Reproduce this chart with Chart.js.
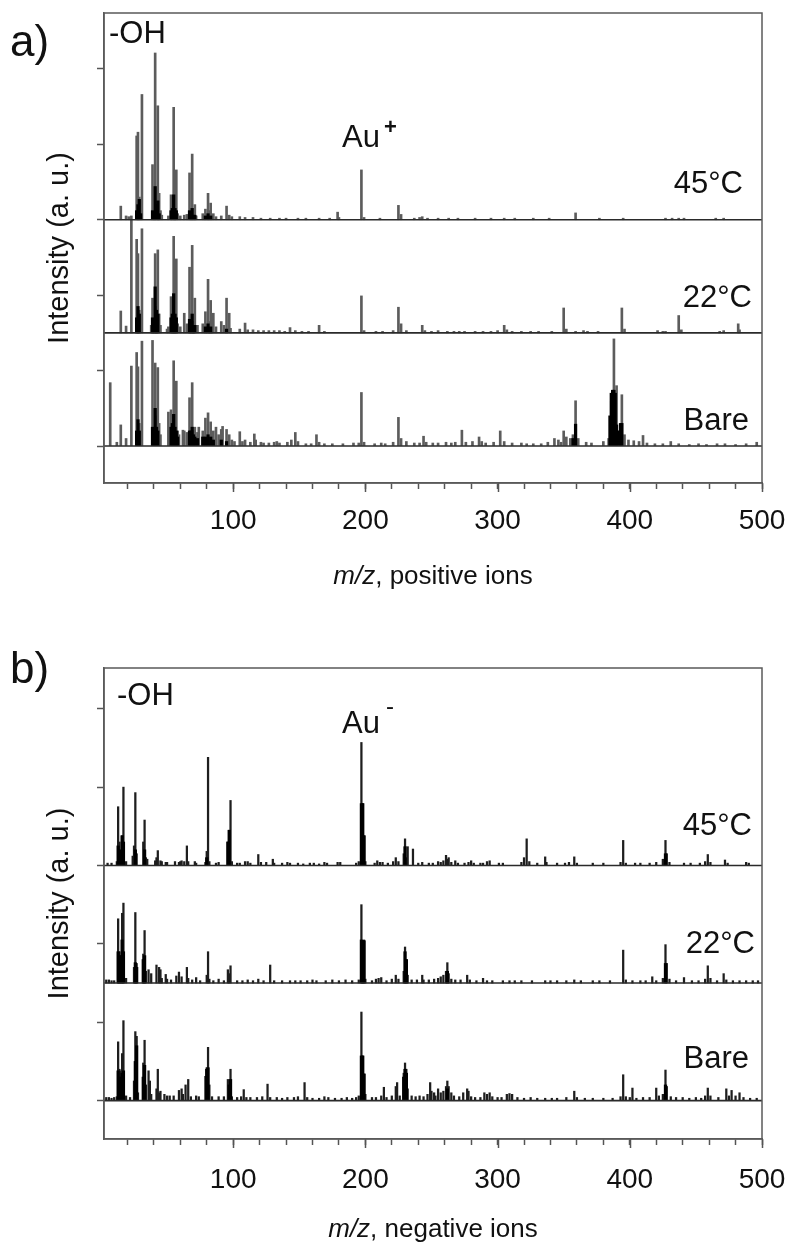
<!DOCTYPE html>
<html><head><meta charset="utf-8">
<script src="https://cdn.jsdelivr.net/npm/chart.js@4.4.1/dist/chart.umd.min.js"></script>
<style>
html,body{margin:0;padding:0;background:#fff;}
body{width:790px;height:1245px;position:relative;overflow:hidden;}
canvas{position:absolute;left:0;}
#ca{top:0;}
#cb{top:622px;}
</style></head><body>
<canvas id="ca" width="790" height="622"></canvas>
<canvas id="cb" width="790" height="623"></canvas>
<script>
// ---------------- DATA ----------------
const mzRange = [2.3, 500];
const xTickLabels = [100, 200, 300, 400, 500];
const spectrumNames = ['45°C', '22°C', 'Bare'];
const spectrumOffsets = [3, 1.5, 0];

// Panel a (positive ions) — 45°C
const posMz45 = [15,19,21,27,28,29,31, 39,41,43,44,45,46, 51,53,55,56,57,58, 60,63,65,67,69,71,72, 77,79,81,82,83,85,87, 91,95,97,99,
  105,109,115,121,128,135,140,149,155,165,173, 179,180,197,199,211,225,227, 237,241,243,247,255,263,270, 283,295,305,313,327,339, 359,377,395, 427,432,437,441,465,471];
const posInt45 = [0.18,0.05,0.04,1.11,1.16,0.30,1.66, 0.73,2.21,1.51,0.35,0.12,0.06, 0.05,0.33,1.49,0.25,0.66,0.08, 0.05,0.06,0.07,0.62,0.87,0.20,0.05, 0.08,0.14,0.35,0.12,0.22,0.08,0.04, 0.05,0.18,0.06,0.04,
  0.04,0.03,0.03,0.02,0.02,0.02,0.02,0.02,0.02,0.02,0.02, 0.10,0.03,0.66,0.03,0.02,0.19,0.07, 0.02,0.03,0.04,0.02,0.02,0.02,0.02, 0.02,0.02,0.02,0.02,0.02,0.02, 0.09,0.02,0.02, 0.02,0.02,0.02,0.02,0.02,0.02];
const posCoreMz45 = [27,28,29,30, 39,40,41,42,43,44, 53,54,55,56,57, 67,68,69,70,71, 79,81,83];
const posCoreInt45 = [0.12,0.20,0.27,0.08, 0.12,0.10,0.44,0.20,0.25,0.08, 0.12,0.15,0.33,0.15,0.12, 0.12,0.08,0.15,0.06,0.06, 0.05,0.08,0.05];

// Panel a — 22°C
const posMz22 = [15,19,23,27,28,29,31, 38,39,41,42,43,44,45, 50,51,53,55,56,57,58, 60,63,65,67,69,70,71,73, 77,79,81,82,83,84,85,87, 91,93,95,97,98,
  105,109,111,115,119,123,127,131,135,139,143,147,152,157,165,169, 197,199,208,213,221,225,227,231, 243,245,250,255,262,267,271,275,283,289,295,300,
  305,307,311,318,325,331,341, 350,352,359,365,368,376, 394,396,421,425,427, 437,439,468,471,482,483];
const posInt22 = [0.29,0.09,1.55,1.24,1.05,0.30,1.38, 0.10,0.46,1.05,0.35,1.10,0.25,0.10, 0.05,0.08,0.48,1.28,0.30,0.98,0.12, 0.08,0.26,0.12,0.87,1.16,0.15,0.46,0.10, 0.12,0.28,0.71,0.15,0.43,0.10,0.26,0.08, 0.15,0.10,0.46,0.26,0.06,
  0.05,0.13,0.04,0.04,0.03,0.03,0.03,0.03,0.03,0.02,0.07,0.03,0.02,0.02,0.10,0.02, 0.49,0.03,0.02,0.02,0.03,0.34,0.12,0.03, 0.10,0.03,0.02,0.03,0.02,0.02,0.02,0.02,0.02,0.02,0.02,0.03,
  0.10,0.04,0.02,0.02,0.02,0.02,0.02, 0.33,0.05,0.02,0.03,0.02,0.02, 0.33,0.05,0.03,0.02,0.02, 0.23,0.04,0.02,0.03,0.12,0.04];
const posCoreMz22 = [27,28,29, 39,40,41,42,43, 53,54,55,56,57, 67,68,69,70,71, 79,81,83,95];
const posCoreInt22 = [0.20,0.35,0.25, 0.20,0.15,0.61,0.30,0.25, 0.20,0.25,0.52,0.25,0.20, 0.18,0.15,0.25,0.10,0.10, 0.08,0.12,0.08,0.05];

// Panel a — Bare
const posMzBare = [7,12,15,19,23,27,28,29,31, 39,41,42,43,44,45, 51,53,55,56,57,58,59, 62,63,65,67,69,70,71,73,74, 77,79,81,83,85,87,89, 91,92,95,97,99,
  101,105,107,109,113,116,117,121,123,127,131,133,135,141,144,147,149, 155,159,163,165,169,175,183,191,195, 197,199,207,212,215,221,225,227,231,
  237,241,244,246,251,255,261,265,268,273,276,281,286,288,291,297, 302,305,311,318,322,327,333,338,343,346,348, 350,352,355,357,359,361,367,371,
  380,384,386,388,390,392,394,396,399, 403,407,410,413,419,425,431,437,445,452,458,466,472,480,488,496];
const posIntBare = [0.84,0.05,0.28,0.10,1.06,1.24,1.05,0.30,1.39, 1.40,1.10,0.40,1.04,0.30,0.15, 0.45,0.48,1.13,0.40,0.86,0.20,0.15, 0.21,0.20,0.18,0.64,0.84,0.20,0.25,0.18,0.25, 0.20,0.37,0.44,0.32,0.20,0.25,0.15, 0.22,0.26,0.22,0.15,0.08,
  0.06,0.19,0.06,0.08,0.05,0.16,0.08,0.05,0.04,0.04,0.05,0.06,0.04,0.05,0.08,0.18,0.06, 0.03,0.03,0.15,0.05,0.03,0.03,0.03,0.04,0.04, 0.71,0.05,0.03,0.04,0.03,0.05,0.38,0.10,0.06,
  0.04,0.04,0.13,0.05,0.04,0.04,0.05,0.04,0.05,0.21,0.05,0.06,0.12,0.06,0.04,0.05, 0.20,0.06,0.04,0.04,0.03,0.03,0.03,0.05,0.10,0.08,0.05, 0.20,0.12,0.10,0.15,0.60,0.10,0.05,0.04,
  0.06,0.10,0.60,1.42,0.80,0.20,0.68,0.15,0.08, 0.07,0.06,0.14,0.04,0.03,0.03,0.06,0.03,0.02,0.03,0.02,0.03,0.03,0.02,0.03,0.05];
const posCoreMzBare = [27,28,29, 39,40,41,42,43, 53,54,55,56,57,58, 67,68,69,70,71,73, 77,79,81,83,85,91,95, 357,359, 385,386,387,388,389,390,391,393,394];
const posCoreIntBare = [0.20,0.35,0.20, 0.25,0.20,0.50,0.25,0.20, 0.25,0.30,0.42,0.25,0.20,0.12, 0.20,0.20,0.25,0.15,0.12,0.10, 0.12,0.12,0.15,0.12,0.08,0.08,0.06, 0.10,0.29, 0.40,0.70,0.74,0.74,0.70,0.28,0.20,0.30,0.30];

// Panel b (negative ions) — 45°C
const negMz45 = [5,8,12,13,14,16,17,19, 24,25,26,27,32,33,34,35, 41,42,43,45,46,49,50, 56,59,60,61,63,65,66,71,72, 79,80,81,82,87,89, 96,97,98,99,
  103,105,109,111,113,119,121,125,130,131,137,141,143,149,153,158,161,165,169,171,179,181, 193,195,197,198,199,200, 207,209,211,213,217,221,223,225,
  229,230,231,232,236,240,243,248,251,255,257,259,261,262,263,265,268,270, 275,278,280,282,287,289,292,294,301,304, 318,320,322,324,330,336,337,
  345,351,354,358,360,372,380, 393,395,397,404,408,415,420,425,427,428,430, 441,446,453,457,459,461,472,474,488,490];
const negInt45 = [0.03,0.03,0.05,0.75,0.30,0.38,1.00,0.05, 0.12,0.25,0.93,0.15,0.30,0.58,0.10,0.08, 0.06,0.10,0.19,0.06,0.05,0.04,0.04, 0.05,0.04,0.05,0.06,0.05,0.25,0.05,0.05,0.03, 0.04,0.18,1.38,0.05,0.03,0.04, 0.30,0.45,0.83,0.05,
  0.03,0.03,0.05,0.05,0.03,0.14,0.04,0.04,0.08,0.03,0.03,0.04,0.03,0.03,0.02,0.03,0.03,0.02,0.04,0.03,0.04,0.04, 0.03,0.05,1.57,0.79,0.38,0.05, 0.03,0.06,0.04,0.04,0.03,0.05,0.10,0.05,
  0.15,0.34,0.10,0.24,0.21,0.03,0.04,0.03,0.03,0.05,0.04,0.06,0.13,0.08,0.10,0.04,0.06,0.03, 0.03,0.04,0.06,0.03,0.03,0.03,0.05,0.06,0.03,0.03, 0.04,0.10,0.34,0.05,0.03,0.11,0.04,
  0.03,0.03,0.04,0.11,0.03,0.03,0.03, 0.04,0.32,0.03,0.03,0.03,0.03,0.04,0.08,0.32,0.15,0.04, 0.03,0.03,0.03,0.05,0.14,0.04,0.07,0.03,0.04,0.03];
const negCoreMz45 = [13,14,16,17,26,33,80,96,97,197,198,199,230,427];
const negCoreInt45 = [0.25,0.20,0.38,0.30,0.20,0.20,0.10,0.30,0.45,0.79,0.79,0.38,0.24,0.15];

// Panel b — 22°C
const negMz22 = [4,6,8,10,13,14,15,16,17,19, 25,26,27,32,33,34,36,38, 42,44,45,46,49,50,53,57,59,61,65,66,69,72,75, 80,81,82,85,89,93,96,97,98,
  103,107,111,115,119,123,128,131,137,143,147,151,156,160,163,170,175,180,185,190,195, 197,198,199,200,205,208,210,212,216,220,223,225,
  229,230,231,232,235,239,243,244,248,252,255,257,259,261,262,263,265,268,272,277,279, 284,289,292,296,304,309,313,318,326,336,340,345,352,358,363,372,377,385,
  395,397,402,408,412,417,420,425,427,428,430,435,441,447,452,457,459,461,466,471,473,478,483,488,493,497];
const negInt22 = [0.04,0.04,0.03,0.03,0.82,0.40,0.35,0.89,1.02,0.06, 0.20,0.90,0.25,0.37,0.67,0.15,0.17,0.12, 0.23,0.20,0.17,0.06,0.11,0.05,0.04,0.09,0.14,0.08,0.20,0.06,0.04,0.07,0.03, 0.10,0.40,0.05,0.03,0.05,0.03,0.17,0.12,0.22,
  0.03,0.03,0.04,0.03,0.05,0.03,0.23,0.03,0.03,0.03,0.03,0.03,0.03,0.04,0.03,0.03,0.04,0.03,0.04,0.03,0.04, 1.00,0.54,0.55,0.05,0.03,0.05,0.06,0.07,0.03,0.05,0.10,0.05,
  0.15,0.46,0.30,0.10,0.04,0.04,0.10,0.04,0.04,0.05,0.06,0.08,0.10,0.15,0.26,0.12,0.05,0.04,0.04,0.10,0.04, 0.03,0.06,0.03,0.03,0.03,0.03,0.03,0.03,0.03,0.03,0.03,0.03,0.03,0.04,0.03,0.03,0.03,0.03,
  0.42,0.04,0.03,0.03,0.03,0.08,0.03,0.06,0.49,0.25,0.05,0.03,0.07,0.03,0.03,0.05,0.22,0.06,0.03,0.12,0.04,0.03,0.03,0.03,0.03,0.03];
const negCoreMz22 = [13,14,16,17,26,27,32,33,197,198,199,230,231,262,427];
const negCoreInt22 = [0.40,0.35,0.55,0.40,0.26,0.20,0.30,0.35,0.55,0.54,0.54,0.40,0.30,0.15,0.25];

// Panel b — Bare
const negMzBare = [4,6,8,10,12,13,14,15,16,17,19,22, 25,26,27,28,32,33,34,36,37,38, 42,43,44,45,48,50,52,55,59,61,62,64,66,68,72,74, 79,80,81,82,84,89,93,96,97,98,99,
  103,106,108,110,113,118,122,126,128,133,137,141,146,149,154,156,160,165,169,172,177,182,186,190,193,195, 197,198,199,200,205,208,212,214,216,220,223,224,226,
  229,230,231,232,235,238,241,244,247,249,250,252,253,255,257,259,261,262,263,265,267,271,274,277,278,280,283,287,290,292,294,296,
  300,303,307,309,311,315,320,325,330,336,341,345,352,358,360,366,372,380,387,393, 395,397,400,402,405,410,415,420,422,425,427,428,431,435,
  440,445,450,454,457,459,461,467,473,475,477,480,483,486,491,496];
const negIntBare = [0.04,0.04,0.03,0.04,0.05,0.75,0.40,0.38,0.60,1.02,0.06,0.04, 0.25,0.88,0.82,0.10,0.48,0.77,0.20,0.38,0.25,0.08, 0.15,0.40,0.10,0.12,0.08,0.06,0.06,0.06,0.13,0.15,0.08,0.20,0.27,0.05,0.06,0.05, 0.31,0.42,0.68,0.20,0.05,0.05,0.05,0.27,0.20,0.40,0.05,
  0.04,0.05,0.14,0.04,0.04,0.04,0.05,0.21,0.04,0.04,0.03,0.04,0.04,0.05,0.23,0.04,0.03,0.03,0.05,0.04,0.03,0.03,0.04,0.03,0.04,0.06, 1.13,0.57,0.34,0.08,0.04,0.04,0.06,0.17,0.04,0.06,0.18,0.23,0.06,
  0.35,0.48,0.40,0.15,0.06,0.05,0.06,0.05,0.08,0.23,0.12,0.10,0.06,0.15,0.10,0.12,0.18,0.25,0.18,0.10,0.06,0.05,0.10,0.15,0.12,0.05,0.04,0.04,0.10,0.08,0.10,0.05,
  0.04,0.04,0.08,0.09,0.08,0.04,0.03,0.04,0.03,0.03,0.03,0.03,0.04,0.12,0.04,0.03,0.03,0.03,0.03,0.05, 0.33,0.05,0.04,0.16,0.03,0.04,0.04,0.16,0.06,0.08,0.39,0.18,0.05,0.04,
  0.04,0.03,0.04,0.03,0.06,0.16,0.06,0.04,0.15,0.06,0.13,0.06,0.10,0.04,0.03,0.03];
const negCoreMzBare = [13,14,16,17,26,27,32,33,80,81,97,98,197,198,199,229,230,231,262,427];
const negCoreIntBare = [0.38,0.30,0.35,0.38,0.50,0.70,0.30,0.45,0.40,0.42,0.20,0.27,0.57,0.57,0.34,0.30,0.40,0.35,0.15,0.20];

// ---------------- BUILD ----------------
const FONT = "'Liberation Sans', Arial, Helvetica, sans-serif";
function bars(mz, inten, off) {
  const n = Math.min(mz.length, inten.length);
  const out = [];
  for (let i = 0; i < n; i++) out.push({x: mz[i], y: [off, off + inten[i]]});
  return out;
}
function baseline(off) { return [{x: mzRange[0], y: off}, {x: mzRange[1], y: off}]; }

const framePlugin = {
  id: 'frame',
  afterDraw(chart, args, opts) {
    const {ctx, chartArea: a} = chart;
    const xs = chart.scales.x;
    ctx.save();
    ctx.strokeStyle = '#5a5a5a';
    ctx.lineWidth = 1.5;
    ctx.strokeRect(a.left, a.top, a.right - a.left, a.bottom - a.top);
    // longer major ticks at labelled values
    ctx.strokeStyle = '#555';
    xTickLabels.forEach(v => {
      const px = Math.round(xs.getPixelForValue(v)) + 0.5;
      ctx.beginPath(); ctx.moveTo(px, a.bottom); ctx.lineTo(px, a.bottom + 9); ctx.stroke();
    });
    ctx.fillStyle = '#111';
    ctx.textBaseline = 'alphabetic';
    for (const t of opts.texts) {
      ctx.font = (t.weight || 'normal') + ' ' + t.size + 'px ' + FONT;
      ctx.textAlign = t.align || 'left';
      ctx.fillText(t.text, t.x, t.y);
    }
    // x-axis title with italic m/z
    const xt = opts.xTitle;
    ctx.textBaseline = 'middle';
    ctx.textAlign = 'left';
    ctx.font = 'italic ' + xt.size + 'px ' + FONT;
    const w1 = ctx.measureText(xt.italic).width;
    ctx.font = xt.size + 'px ' + FONT;
    const w2 = ctx.measureText(xt.rest).width;
    const cx = (a.left + a.right) / 2;
    let x0 = cx - (w1 + w2) / 2;
    ctx.font = 'italic ' + xt.size + 'px ' + FONT;
    ctx.fillText(xt.italic, x0, xt.y);
    ctx.font = xt.size + 'px ' + FONT;
    ctx.fillText(xt.rest, x0 + w1, xt.y);
    ctx.restore();
  }
};

function makeChart(id, spectra, peakColor, peakW, coreW, geom, texts, xTitle) {
  const datasets = [];
  spectra.forEach((s, k) => {
    const off = spectrumOffsets[k];
    datasets.push({type: 'line', data: baseline(off), borderColor: '#2a2a2a', borderWidth: 1.6,
      pointRadius: 0, order: 0});
    datasets.push({type: 'bar', label: spectrumNames[k] + ' core', data: bars(s[2], s[3], off),
      backgroundColor: '#000', barThickness: coreW, grouped: false, order: 1});
    datasets.push({type: 'bar', label: spectrumNames[k], data: bars(s[0], s[1], off),
      backgroundColor: peakColor, barThickness: peakW, grouped: false, order: 2});
  });
  return new Chart(document.getElementById(id), {
    type: 'bar',
    data: {datasets},
    plugins: [framePlugin],
    options: {
      responsive: false, animation: false, devicePixelRatio: 1,
      layout: {padding: {left: 0, right: 28, top: geom.top, bottom: 0}},
      plugins: {legend: {display: false}, tooltip: {enabled: false},
        frame: {texts, xTitle}},
      scales: {
        x: {type: 'linear', min: mzRange[0], max: mzRange[1], offset: false,
          afterFit: s => { s.height = geom.xh; s.paddingLeft = 0; s.paddingRight = 0; },
          grid: {drawOnChartArea: false, offset: false, tickLength: 6, tickColor: '#555', tickWidth: 1.5},
          border: {display: true, color: '#5a5a5a', width: 1.5},
          ticks: {stepSize: 20, includeBounds: false, autoSkip: false, maxRotation: 0,
            padding: geom.tickPad, color: '#111', font: {family: FONT, size: 28},
            callback: v => xTickLabels.includes(v) ? String(v) : ''}},
        y: {type: 'linear', min: geom.ymin, max: geom.ymax,
          afterFit: s => { s.width = 104; s.paddingTop = 0; s.paddingBottom = 0; },
          grid: {drawOnChartArea: false, tickLength: 7, tickColor: '#555', tickWidth: 1.5},
          border: {display: true, color: '#5a5a5a', width: 1.5},
          ticks: {display: false, stepSize: 1, includeBounds: false},
          title: {display: true, text: 'Intensity (a. u.)', color: '#111',
            font: {family: FONT, size: 29}, padding: {top: 43, bottom: 0}}}
      }
    }
  });
}

makeChart('ca',
  [[posMz45, posInt45, posCoreMz45, posCoreInt45],
   [posMz22, posInt22, posCoreMz22, posCoreInt22],
   [posMzBare, posIntBare, posCoreMzBare, posCoreIntBare]],
  '#5c5c5c', 2, 2.6,
  {top: 13, xh: 139, ymin: -0.49, ymax: 5.74, tickPad: 15},
  [{text: 'a)', x: 10, y: 56, size: 44},
   {text: '-OH', x: 109, y: 43, size: 31},
   {text: 'Au', x: 342, y: 147, size: 31},
   {text: '+', x: 384, y: 134, size: 22, weight: 'bold'},
   {text: spectrumNames[0], x: 743, y: 193, size: 31, align: 'right'},
   {text: spectrumNames[1], x: 752, y: 307, size: 31, align: 'right'},
   {text: spectrumNames[2], x: 749, y: 430, size: 31, align: 'right'}],
  {italic: 'm/z', rest: ', positive ions', size: 26, y: 577});

makeChart('cb',
  [[negMz45, negInt45, negCoreMz45, negCoreInt45],
   [negMz22, negInt22, negCoreMz22, negCoreInt22],
   [negMzBare, negIntBare, negCoreMzBare, negCoreIntBare]],
  '#1e1e1e', 1.6, 2.6,
  {top: 46, xh: 106, ymin: -0.49, ymax: 5.52, tickPad: 18},
  [{text: 'b)', x: 10, y: 61, size: 44},
   {text: '-OH', x: 117, y: 83, size: 31},
   {text: 'Au', x: 342, y: 111, size: 31},
   {text: '-', x: 386, y: 92, size: 24},
   {text: spectrumNames[0], x: 752, y: 213, size: 31, align: 'right'},
   {text: spectrumNames[1], x: 755, y: 331, size: 31, align: 'right'},
   {text: spectrumNames[2], x: 749, y: 446, size: 31, align: 'right'}],
  {italic: 'm/z', rest: ', negative ions', size: 26, y: 608});
</script>
</body></html>
